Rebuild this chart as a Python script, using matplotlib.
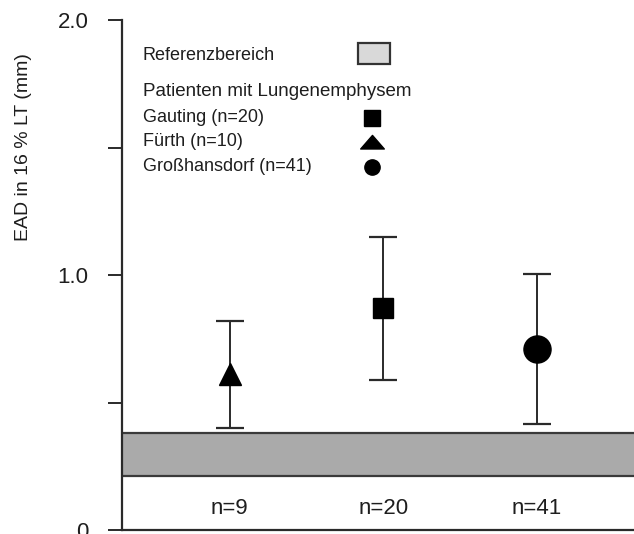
import matplotlib
matplotlib.use("Agg")
import matplotlib.pyplot as plt
from matplotlib.patches import Rectangle
from matplotlib.path import Path
import numpy as np

plt.rcParams['font.family'] = ['Liberation Sans', 'DejaVu Sans']

# Data
groups = ["Fürth", "Gauting", "Großhansdorf"]
group_n = ["n=9", "n=20", "n=41"]
means = [0.61, 0.87, 0.71]
errors = [0.21, 0.28, 0.295]
markers = ["^", "s", "o"]
marker_sizes = [16, 15, 19.5]
reference_range = (0.21, 0.38)

legend_entries = ["Gauting (n=20)", "Fürth (n=10)", "Großhansdorf (n=41)"]
legend_markers = ["s", "flat_tri", "o"]

yticks = [0, 0.5, 1.0, 1.5, 2.0]
ytick_labels = ["0", "", "1.0", "", "2.0"]

W, H = 634, 534
fig = plt.figure(figsize=(W / 100, H / 100), dpi=100)
ax = fig.add_axes([122 / W, (H - 530) / H, 512 / W, 510 / H])

text_color = "#1e1e1e"
line_color = "#2a2a2a"

x = np.arange(1, len(groups) + 1)
ax.set_xlim(0.30, 3.63)
ax.set_ylim(0, 2.0)

# Reference band across the full width
ax.axhspan(reference_range[0], reference_range[1], facecolor="#aaaaaa",
           edgecolor="none", zorder=1)
for yv in reference_range:
    ax.axhline(yv, color="#3a3a3a", lw=1.6, zorder=2)

# Means with error bars
for xi, m, e, mk, ms in zip(x, means, errors, markers, marker_sizes):
    ax.errorbar(xi, m, yerr=e, fmt=mk, ms=ms, color="black", mfc="black",
                mec="black", ecolor=line_color, elinewidth=1.4, capsize=10,
                capthick=1.6, zorder=3)

# Group sizes below the band
for xi, lab in zip(x, group_n):
    ax.text(xi, 0.085, lab, ha="center", va="center", fontsize=16,
            color=text_color)

# Axes styling
for side in ("top", "right"):
    ax.spines[side].set_visible(False)
for side in ("left", "bottom"):
    ax.spines[side].set_linewidth(1.6)
    ax.spines[side].set_color(line_color)
ax.set_xticks([])
ax.set_yticks(yticks)
ax.set_yticklabels(ytick_labels)
ax.tick_params(axis="y", direction="out", length=10, width=1.4,
               color=line_color, pad=14, labelsize=16, labelcolor=text_color)

ax.text(-0.193, 0.751, "EAD in 16 % LT (mm)", rotation=90, ha="center",
        va="center", fontsize=14, color=text_color, transform=ax.transAxes)

# Legend block
tx = 0.041
ax.text(tx, 0.931, "Referenzbereich", transform=ax.transAxes, ha="left",
        va="center", fontsize=13, color=text_color)
ax.add_patch(Rectangle((0.461, 0.914), 0.062, 0.041, transform=ax.transAxes,
                       facecolor="#d9d9d9", edgecolor="#333333", lw=1.6,
                       zorder=4))
ax.text(tx, 0.859, "Patienten mit Lungenemphysem", transform=ax.transAxes,
        ha="left", va="center", fontsize=13.5, color=text_color)

flat_tri = Path([(-1.0, -0.55), (1.0, -0.55), (0.0, 0.6), (-1.0, -0.55)],
                [Path.MOVETO, Path.LINETO, Path.LINETO, Path.CLOSEPOLY])
legend_y = [0.808, 0.761, 0.712]
legend_ms = [11.5, 17, 11]
for lab, mk, ly, ms in zip(legend_entries, legend_markers, legend_y, legend_ms):
    ax.text(tx, ly, lab, transform=ax.transAxes, ha="left", va="center",
            fontsize=13, color=text_color)
    marker = flat_tri if mk == "flat_tri" else mk
    ax.plot([0.488], [ly], marker=marker, ms=ms, color="black", ls="none",
            transform=ax.transAxes, clip_on=False, zorder=4)

fig.savefig("out.png", dpi=100, facecolor="white")
